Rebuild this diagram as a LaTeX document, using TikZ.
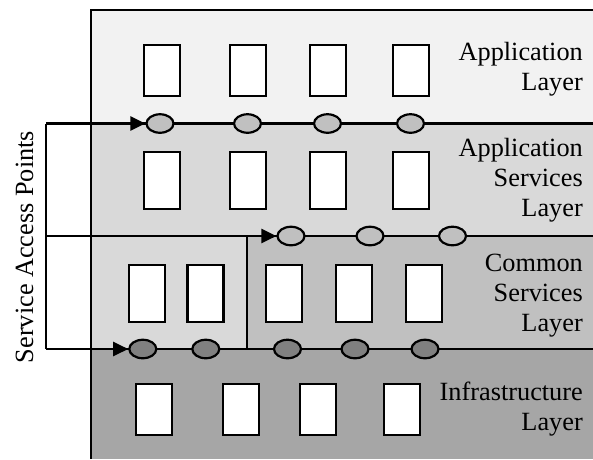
\documentclass[tikz,border=0pt]{standalone}
\usepackage{fontspec}
\setmainfont{Liberation Serif}
\usetikzlibrary{shapes.geometric,arrows.meta}
\definecolor{lay1}{HTML}{F2F2F2}
\definecolor{lay2}{HTML}{D9D9D9}
\definecolor{lay3}{HTML}{C0C0C0}
\definecolor{lay4}{HTML}{A6A6A6}
\definecolor{sapl}{HTML}{C0C0C0}
\definecolor{sapd}{HTML}{808080}
\tikzset{
  lw/.style={line width=2.2pt},
  comp/.style={draw, lw, fill=white, minimum width=36pt, inner sep=0pt},
  sap/.style={ellipse, draw, lw, minimum width=27pt, minimum height=18.5pt, inner sep=0pt},
  lbl/.style={anchor=base east, inner sep=0pt, font=\fontsize{26.3}{30}\selectfont},
  arr/.style={lw, -{Triangle[length=15pt,width=14pt]}}
}
\begin{document}
\begin{tikzpicture}[x=1pt,y=-1pt]
\useasboundingbox (0,0) rectangle (593,459);
% layer fills
\fill[lay1] (91,10) rectangle (593,123.5);
\fill[lay2] (91,123.5) rectangle (593,236);
\fill[lay2] (91,236) rectangle (247,349);
\fill[lay3] (247,236) rectangle (593,349);
\fill[lay4] (91,349) rectangle (593,459);
% coordinates
\coordinate (tl) at (91,10);
\coordinate (tr) at (593,10);
\coordinate (bl) at (91,459);
\coordinate (s1) at (46,123.5);
\coordinate (s2) at (46,236);
\coordinate (s3) at (46,349);
\coordinate (e1) at (593,123.5);
\coordinate (e2) at (593,236);
\coordinate (e3) at (593,349);
\coordinate (d1) at (247,236);
\coordinate (d2) at (247,349);
\coordinate (b1) at (91,123.5);
\coordinate (b2) at (91,236);
% frame lines
\draw[lw] (bl) -- (tl) -- (tr);
\draw[lw] (s1) -- (s3);
\draw[lw] (d1) -- (d2);
\draw[lw] (b1) -- (e1);
\draw[lw] (b2) -- (e2);
\draw[lw] (s3) -- (e3);
% SAP ovals
\node[sap, fill=sapl] (a1) at (160,123.5) {};
\node[sap, fill=sapl] (a2) at (247.5,123.5) {};
\node[sap, fill=sapl] (a3) at (327.5,123.5) {};
\node[sap, fill=sapl] (a4) at (410.5,123.5) {};
\node[sap, fill=sapl] (c1) at (291,236) {};
\node[sap, fill=sapl] (c2) at (370,236) {};
\node[sap, fill=sapl] (c3) at (452.5,236) {};
\node[sap, fill=sapd] (i1) at (142.8,349) {};
\node[sap, fill=sapd] (i2) at (205.8,349) {};
\node[sap, fill=sapd] (i3) at (287.5,349) {};
\node[sap, fill=sapd] (i4) at (355,349) {};
\node[sap, fill=sapd] (i5) at (425,349) {};
% arrows
\draw[arr] (s1) -- (a1.west);
\draw[arr] (s2) -- (c1.west);
\draw[arr] (s3) -- (i1.west);
% components
\foreach \x [count=\i] in {162,248,328,411}
  \node[comp, minimum height=51pt] (p\i) at (\x,70.5) {};
\foreach \x [count=\i] in {162,248,328,411}
  \node[comp, minimum height=57.6pt] (q\i) at (\x,180.5) {};
\foreach \x [count=\i] in {146.7,205.5,283.8,353.7,424.2}
  \node[comp, minimum height=56.7pt] (r\i) at (\x,293.3) {};
\foreach \x [count=\i] in {154.2,240.8,318.3,401.7}
  \node[comp, minimum height=51pt] (t\i) at (\x,409.5) {};
% labels
\node[lbl] (l1a) at (583,60) {Application};
\node[lbl] (l1b) at (583,90.5) {Layer};
\node[lbl] (l2a) at (583,156.7) {Application};
\node[lbl] (l2b) at (583,186.7) {Services};
\node[lbl] (l2c) at (583,216.7) {Layer};
\node[lbl] (l3a) at (583,271.7) {Common};
\node[lbl] (l3b) at (583,301.7) {Services};
\node[lbl] (l3c) at (583,331.7) {Layer};
\node[lbl] (l4a) at (583,400) {Infrastructure};
\node[lbl] (l4b) at (583,430) {Layer};
\node[rotate=90, anchor=base, inner sep=0pt, font=\fontsize{26.3}{30}\selectfont] (sapt) at (33,247) {Service Access Points};
\end{tikzpicture}
\end{document}
